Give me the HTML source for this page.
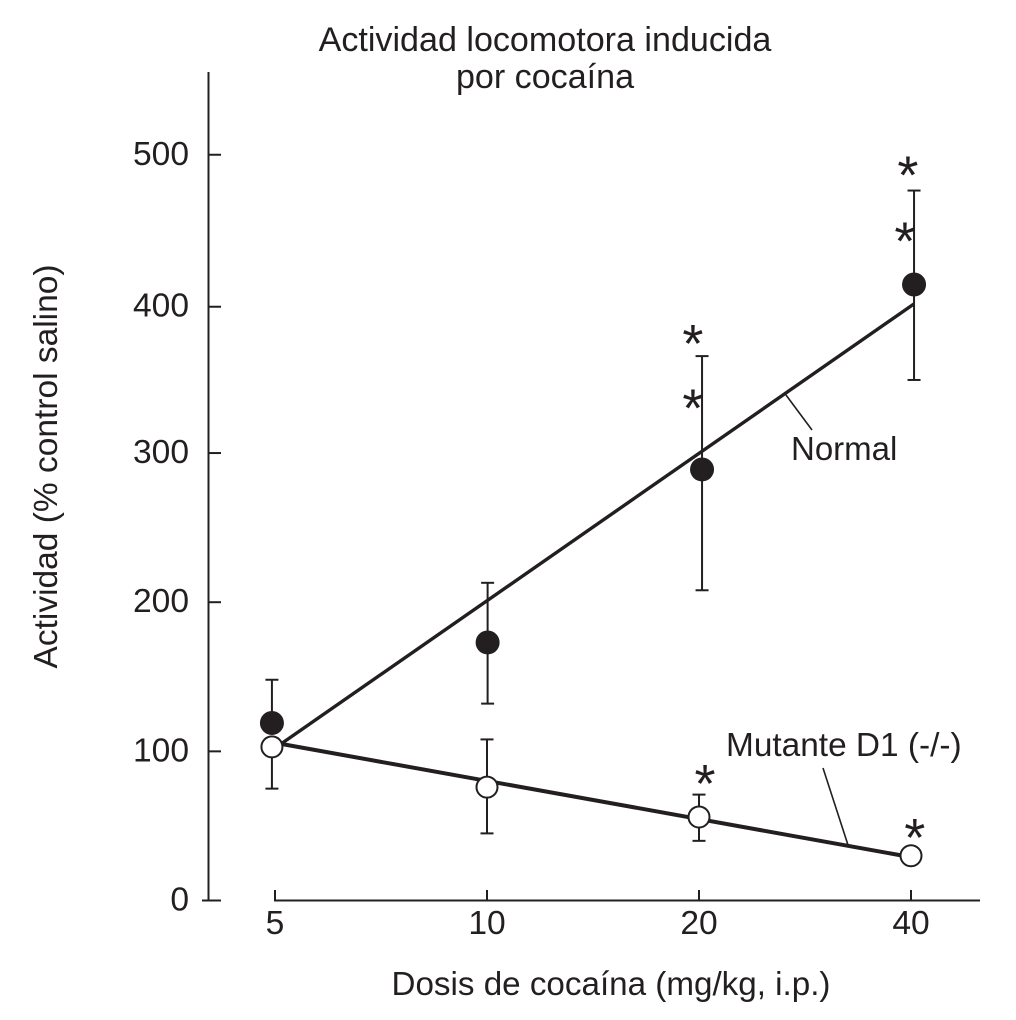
<!DOCTYPE html>
<html lang="es">
<head>
<meta charset="utf-8">
<title>Actividad locomotora inducida por cocaína</title>
<style>
html,body{margin:0;padding:0;background:#fff}
svg{display:block}
text{font-family:"Liberation Sans",Arial,sans-serif;fill:#231f20}
</style>
</head>
<body>
<svg id="chart" xmlns="http://www.w3.org/2000/svg" width="1016" height="1020" viewBox="0 0 1016 1020">
<rect width="1016" height="1020" fill="#fff"/>
<text x="545" y="51" font-size="34.1" text-anchor="middle">Actividad locomotora inducida</text>
<text x="545" y="88" font-size="34.1" text-anchor="middle">por cocaína</text>
<text transform="translate(57,466.5) rotate(-90)" font-size="33.5" text-anchor="middle">Actividad (% control salino)</text>
<text x="611" y="995" font-size="33.2" text-anchor="middle">Dosis de cocaína (mg/kg, i.p.)</text>
<g id="axes"></g>
<g id="fits"></g>
<g id="errors"></g>
<g id="points"></g>
<g id="stars"></g>
<line x1="786" y1="395" x2="812" y2="430" stroke="#231f20" stroke-width="1.6"/>
<text x="791" y="460" font-size="33">Normal</text>
<line x1="823" y1="768" x2="848" y2="845" stroke="#231f20" stroke-width="1.6"/>
<text x="726" y="756" font-size="33.4">Mutante D1 (-/-)</text>
</svg>
<script>
const xTicks = [5, 10, 20, 40];
const yTickValues = [0, 100, 200, 300, 398.1, 500];
const yTickLabels = ['0', '100', '200', '300', '400', '500'];
const fitDoses = [5.1, 40.4];
const normalFit = [105, 400];
const mutantFitDoses = [5.1, 39];
const mutantFit = [105, 30];
const normalDoses = [4.95, 10.02, 20.2, 40.4];
const normalMeans = [119, 173, 289, 413];
const normalHigh = [148, 213, 365, 476];
const normalLow = [119, 132, 208, 349];
const mutantDoses = [4.95, 10, 20, 40];
const mutantMeans = [103, 76, 56, 30];
const mutantHigh = [103, 108, 71, 30];
const mutantLow = [75, 45, 40, 30];
const starDoses = [19.6, 39.6, 19.6, 39.2, 20.4, 40.5];
const starValues = [377, 490, 334, 446, 82, 46];

const NS = 'http://www.w3.org/2000/svg';
const INK = '#231f20';
function xScale(dose) { return 275 + 212 * Math.log2(dose / 5); }
function yScale(value) { return 900.5 - 1.4915 * value; }
function make(parent, tag, attrs) {
  const el = document.createElementNS(NS, tag);
  for (const k in attrs) el.setAttribute(k, attrs[k]);
  parent.appendChild(el);
  return el;
}
const axes = document.getElementById('axes');
const fits = document.getElementById('fits');
const errors = document.getElementById('errors');
const points = document.getElementById('points');
const stars = document.getElementById('stars');

let yAxis = make(axes, 'line', {x1: 208.5, y1: 72, x2: 208.5, y2: 901.5, stroke: INK, 'stroke-width': 2});


let xAxis = make(axes, 'line', {x1: xScale(5) - 1, y1: 900.5, x2: 980, y2: 900.5, stroke: INK, 'stroke-width': 2});



yTickValues.forEach((v, i) => {
  const y = yScale(v);
  const tick = make(axes, 'line', {x1: v === 0 ? 202 : 208, y1: y, x2: 221, y2: y, stroke: INK, 'stroke-width': 2});
  
  
  const label = make(axes, 'text', {x: 189, y: y + 10, 'font-size': 33.6, 'text-anchor': 'end'});
  
  
  label.textContent = yTickLabels[i];
});
xTicks.forEach(d => {
  const x = xScale(d);
  const tick = make(axes, 'line', {x1: x, y1: 890, x2: x, y2: 901, stroke: INK, 'stroke-width': 2});
  
  
  const label = make(axes, 'text', {x: x, y: 934, 'font-size': 33.6, 'text-anchor': 'middle'});
  
  
  label.textContent = d;
});

let nFit = make(fits, 'line', {x1: xScale(fitDoses[0]), y1: yScale(normalFit[0]), x2: xScale(fitDoses[1]), y2: yScale(normalFit[1]), stroke: INK, 'stroke-width': 3.4});


let mFit = make(fits, 'line', {x1: xScale(mutantFitDoses[0]), y1: yScale(mutantFit[0]), x2: xScale(mutantFitDoses[1]), y2: yScale(mutantFit[1]), stroke: INK, 'stroke-width': 4});



function drawError(dose, hi, lo, nameBase) {
  if (hi === lo) return;
  const x = xScale(dose);
  const body = make(errors, 'line', {x1: x, y1: yScale(hi), x2: x, y2: yScale(lo), stroke: INK, 'stroke-width': 2});
  
  
  [hi, lo].forEach(v => {
    const cap = make(errors, 'line', {x1: x - 6.5, y1: yScale(v), x2: x + 6.5, y2: yScale(v), stroke: INK, 'stroke-width': 2});
    
    
  });
}
normalDoses.forEach((d, i) => drawError(d, normalHigh[i], normalLow[i], 'normal-error-bar'));
mutantDoses.forEach((d, i) => drawError(d, mutantHigh[i], mutantLow[i], 'mutant-error-bar'));

normalDoses.forEach((d, i) => {
  const c = make(points, 'circle', {cx: xScale(d), cy: yScale(normalMeans[i]), r: 12, fill: INK});
  
  
});
mutantDoses.forEach((d, i) => {
  const c = make(points, 'circle', {cx: xScale(d), cy: yScale(mutantMeans[i]), r: 10.5, fill: '#fff', stroke: INK, 'stroke-width': 2});
  
  
});
starDoses.forEach((d, i) => {
  const t = make(stars, 'text', {x: xScale(d), y: yScale(starValues[i]) + 24, 'font-size': 54, 'text-anchor': 'middle', fill: '#000'});
  
  
  t.textContent = '*';
});
</script>
</body>
</html>
